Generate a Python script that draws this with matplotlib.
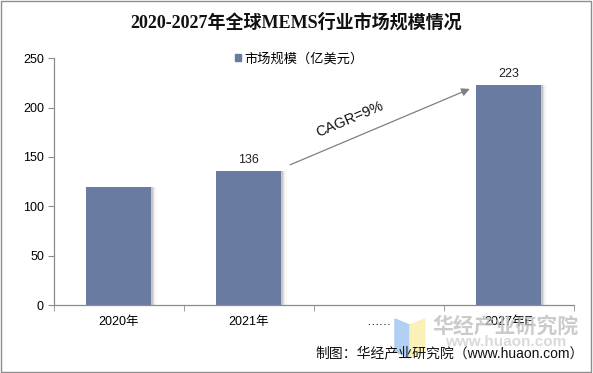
import matplotlib
matplotlib.use("Agg")
import matplotlib.pyplot as plt
import matplotlib.patches as mpatches
import numpy as np

plt.rcParams['font.family'] = ['Liberation Sans', 'Noto Sans CJK SC', 'DejaVu Sans']

categories = ['2020年', '2021年', '……', '2027年E']
values = [120, 136, None, 223]
labelled = [False, True, False, True]
series_name = '市场规模（亿美元）'
title = '2020-2027年全球MEMS行业市场规模情况'
cagr_text = 'CAGR=9%'
source_text = '制图：华经产业研究院（www.huaon.com）'

bar_color = '#6A7BA2'
axis_color = '#8C8C8C'

fig = plt.figure(figsize=(5.93, 3.73), dpi=100)
ax = fig.add_axes([0.0905, 0.182, 0.877, 0.662])

x = np.arange(len(categories))
xs = [xi for xi, v in zip(x, values) if v is not None]
vs = [v for v in values if v is not None]

# soft shadow to the right of each bar
for off, a in [(0.012, 0.10), (0.022, 0.07), (0.032, 0.04), (0.042, 0.02)]:
    ax.bar(np.array(xs) + off, vs, width=0.5, color='#000000',
           alpha=a, zorder=1, linewidth=0)
ax.bar(xs, vs, width=0.5, color=bar_color, zorder=2, linewidth=0)

for xi, v, show in zip(x, values, labelled):
    if v is not None and show:
        ax.text(xi, v + 5, str(v), ha='center', va='bottom', fontsize=9, color='#222222')

ax.set_xlim(-0.5, len(categories) - 0.5)
ax.set_ylim(0, 250)
ax.set_yticks(range(0, 251, 50))
ax.set_xticks(x)
ax.set_xticklabels(categories, fontsize=9)
ax.tick_params(axis='x', length=0, pad=8)
ax.set_xticks(np.arange(-0.5, len(categories), 1.0), minor=True)
ax.tick_params(axis='x', which='minor', length=4, color=axis_color, direction='out')
ax.tick_params(axis='y', length=4, color=axis_color, labelsize=9, pad=3)

for side in ['top', 'right']:
    ax.spines[side].set_visible(False)
for side in ['left', 'bottom']:
    ax.spines[side].set_color(axis_color)
    ax.spines[side].set_linewidth(0.9)

# growth arrow
ax.annotate('', xy=(2.72, 220), xytext=(1.3, 141),
            arrowprops=dict(arrowstyle='-|>', color='#7F7F7F', lw=0.9,
                            mutation_scale=12))
ax.text(1.78, 188, cagr_text, rotation=23, ha='center', va='center',
        fontsize=10.5, color='#111111')

# legend
handle = mpatches.Patch(color=bar_color, label=series_name)
fig.legend(handles=[handle], loc='center', bbox_to_anchor=(0.505, 0.842),
           frameon=False, fontsize=9.5, handlelength=0.45, handleheight=0.45,
           handletextpad=0.3)

fig.text(0.5, 0.94, title, ha='center', va='center', fontsize=13,
         fontweight='bold', family=['Liberation Serif', 'Noto Sans CJK SC'],
         color='#111111')

# watermark
fig.patches.append(mpatches.Polygon([[0.666, 0.145], [0.691, 0.128], [0.691, 0.040],
                                     [0.666, 0.058]], closed=True,
                                    transform=fig.transFigure, color='#A9CBF2', alpha=0.9))
fig.patches.append(mpatches.Polygon([[0.691, 0.128], [0.716, 0.145], [0.716, 0.058],
                                     [0.691, 0.040]], closed=True,
                                    transform=fig.transFigure, color='#FBEFB0', alpha=0.9))
fig.text(0.852, 0.125, '华经产业研究院', ha='center', va='center', fontsize=15,
         fontweight='bold', color='#BFBFBF', alpha=0.8,
         family=['Noto Sans CJK SC', 'DejaVu Sans'])
fig.text(0.852, 0.082, 'www.huaon.com', ha='center', va='center', fontsize=11,
         fontweight='bold', color='#D0D0D0', alpha=0.8)

fig.text(0.985, 0.052, source_text, ha='right', va='center', fontsize=10,
         color='#111111')

# outer border
fig.patches.append(mpatches.Rectangle((0.002, 0.003), 0.995, 0.994, fill=False,
                                      edgecolor='#8C8C8C', lw=1.0,
                                      transform=fig.transFigure))

fig.savefig('out.png', dpi=100)
